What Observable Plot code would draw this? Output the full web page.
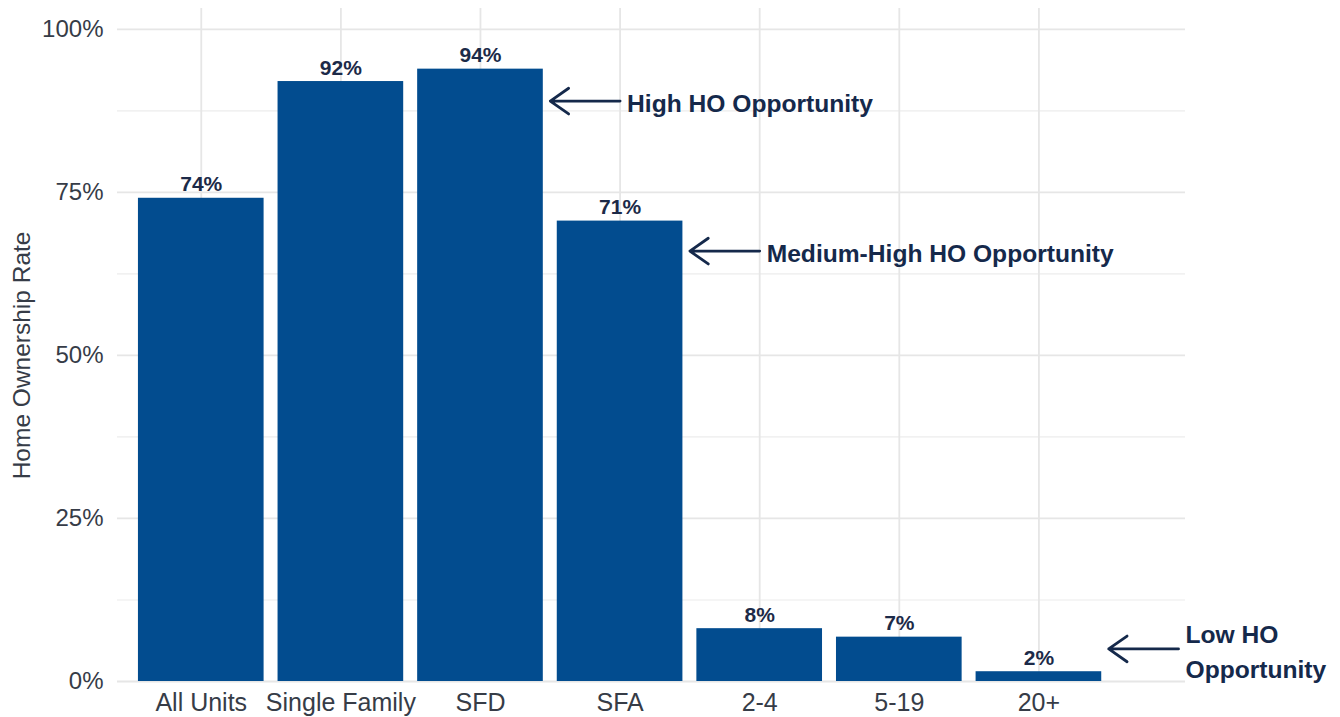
<!DOCTYPE html>
<html>
<head>
<meta charset="utf-8">
<script src="https://cdn.jsdelivr.net/npm/d3@7"></script>
<script src="https://cdn.jsdelivr.net/npm/@observablehq/plot@0.6"></script>
<style>
  html, body { margin: 0; padding: 0; background: #ffffff; }
  #chart svg { display: block; }
</style>
</head>
<body>
<div id="chart"></div>
<script>
// ---- data ----
const categories = ["All Units", "Single Family", "SFD", "SFA", "2-4", "5-19", "20+"];
const rates = [0.741, 0.920, 0.939, 0.706, 0.081, 0.068, 0.015];
const rateLabels = ["74%", "92%", "94%", "71%", "8%", "7%", "2%"];
const majorTicks = [0, 0.25, 0.5, 0.75, 1];
const minorTicks = [0.125, 0.375, 0.625, 0.875];
const annotationText = ["High HO Opportunity", "Medium-High HO Opportunity", "Low HO\nOpportunity"];
const annotationFrom = [4, 5, 8];
const annotationTo = [3.5, 4.5, 7.5];
const annotationY = [0.89, 0.66, 0.05];
const yTitle = "Home Ownership Rate";

// ---- tables ----
const bars = categories.map((c, i) => ({ pos: i + 1, category: c, rate: rates[i], label: rateLabels[i] }));
const notes = annotationText.map((t, i) => ({ text: t, from: annotationFrom[i], to: annotationTo[i], y: annotationY[i] }));
const positions = bars.map(d => d.pos);

const barColor = "#024c8f";
const navy = "#15294b";

const chart = Plot.plot({
  width: 1340,
  height: 717,
  marginLeft: 117,
  marginRight: 155,
  marginTop: 8,
  marginBottom: 36,
  style: { fontFamily: "'Liberation Sans', Arial, sans-serif", color: "#363c47", background: "#ffffff", overflow: "visible" },
  x: { type: "linear", domain: [0.4, 8.05] },
  y: { domain: [0, 1.032] },
  marks: [
    Plot.ruleY(minorTicks, { stroke: "#ececec", strokeWidth: 1.2 }),
    Plot.ruleY(majorTicks, { stroke: "#e6e6e6", strokeWidth: 1.8 }),
    Plot.ruleX(positions, { stroke: "#e6e6e6", strokeWidth: 1.8 }),
    Plot.rect(bars, { x1: d => d.pos - 0.45, x2: d => d.pos + 0.45, y1: 0, y2: "rate", fill: barColor }),
    Plot.text(bars, { x: "pos", y: "rate", text: "label", dy: -7, lineAnchor: "bottom", fontWeight: "bold", fontSize: 21, fill: "#1c2a48" }),
    Plot.arrow(notes, { x1: "from", x2: "to", y1: "y", y2: "y", stroke: navy, strokeWidth: 2.8, headLength: 12, headAngle: 70 }),
    Plot.text(notes, { x: "from", y: "y", text: "text", dx: 7, textAnchor: "start", lineAnchor: "middle", lineHeight: 1.42, fontWeight: "bold", fontSize: 24.6, fill: navy }),
    Plot.axisY(majorTicks, {
      tickFormat: d3.format(".0%"), tickSize: 0, tickPadding: 14, fontSize: 24, label: null
    }),
    Plot.text([yTitle], { y: [0.5], frameAnchor: "left", dx: -105, rotate: -90, textAnchor: "middle", lineAnchor: "top", fontSize: 24.5, fill: "#363c47" }),
    Plot.axisX(positions, {
      tickFormat: p => categories[p - 1], tickSize: 0, tickPadding: 12, fontSize: 25, label: null
    })
  ]
});
document.getElementById("chart").appendChild(chart);
</script>
</body>
</html>
